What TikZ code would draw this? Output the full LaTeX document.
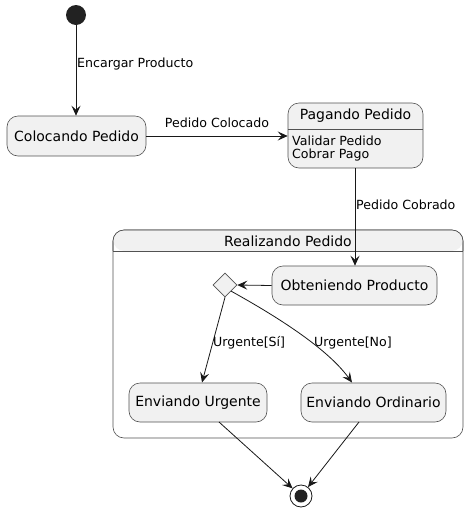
\documentclass[tikz,border=0pt]{standalone}
\usepackage{fontspec}
\setmainfont{DejaVu Sans}
\usetikzlibrary{arrows.meta,shapes.geometric}
\definecolor{stfill}{HTML}{F1F1F1}
\definecolor{stline}{HTML}{181818}
\definecolor{dot}{HTML}{222222}
\begin{document}
\begin{tikzpicture}[x=1pt,y=-1pt,
  state/.style={draw=stline!75,line width=0.6pt,fill=stfill,rounded corners=11pt,inner sep=0pt,font=\fontsize{14}{16}\selectfont},
  edge/.style={draw=stline,line width=0.8pt,-{Stealth[length=10pt,width=9pt,inset=4pt]}},
  lbl/.style={font=\fontsize{12.6}{14}\selectfont,inner sep=0pt},
  body/.style={font=\fontsize{12.6}{14}\selectfont,inner sep=0pt,anchor=west}]
\useasboundingbox (0,0) rectangle (469,512);
% composite state
\node[state,fill=white,minimum width=350pt,minimum height=208pt] (real) at (288,334) {};
\fill[stfill,rounded corners=11pt] (113.3,251) -- (113.3,230.3) -- (462.7,230.3) -- (462.7,251) -- cycle;
\draw[stline!75,line width=0.6pt,rounded corners=11pt] (113,251) -- (113,230) -- (463,230) -- (463,251);
\draw[stline!75,line width=0.6pt] (113,251) -- (463,251);
\node[font=\fontsize{14}{16}\selectfont,inner sep=0pt] (realt) at (288,241) {Realizando Pedido};
% initial
\node[circle,fill=dot,minimum size=20pt,inner sep=0pt] (ini) at (76,15) {};
\node[state,minimum width=139pt,minimum height=40pt] (col) at (76.5,136) {Colocando Pedido};
\node[state,minimum width=135pt,minimum height=65pt] (pag) at (355.5,135.5) {};
\draw[stline!75,line width=0.6pt] (288,129) -- (423,129);
\node[font=\fontsize{14}{16}\selectfont,inner sep=0pt] (pagt) at (355.5,116) {Pagando Pedido};
\node[body] (b1) at (292,141) {Validar Pedido};
\node[body] (b2) at (292,155) {Cobrar Pago};
\node[state,minimum width=165pt,minimum height=39pt] (obt) at (354.5,285.5) {Obteniendo Producto};
\node[diamond,draw=stline!75,line width=0.6pt,fill=stfill,minimum width=24pt,minimum height=24pt,inner sep=0pt] (dia) at (225,285) {};
\node[state,minimum width=138pt,minimum height=39pt] (urg) at (198,402.5) {Enviando Urgente};
\node[state,minimum width=145pt,minimum height=39pt] (ord) at (373.5,402.5) {Enviando Ordinario};
\node[circle,draw=stline,line width=0.8pt,fill=white,minimum size=22pt,inner sep=0pt] (fin) at (301,496) {};
\node[circle,fill=dot,minimum size=13pt,inner sep=0pt] (finin) at (301,496) {};
% edges
\draw[edge] (ini) -- (col.north -| ini);
\node[lbl,anchor=west] (l1) at (77,64) {Encargar Producto};
\draw[edge] (col.east) -- (pag.west |- col.east);
\node[lbl] (l2) at (217,123) {Pedido Colocado};
\draw[edge] (pag.south -| 355,0) -- (obt.north -| 355,0);
\node[lbl,anchor=west] (l3) at (356,205) {Pedido Cobrado};
\draw[edge] (obt.west) -- (dia.east);
\draw[edge] (dia.south) -- (202,382.5);
\node[lbl,anchor=west] (l4) at (213,343) {Urgente[Sí]};
\draw[edge] (dia.south east) .. controls (265,310) and (325,345) .. (352,382.5);
\node[lbl,anchor=west] (l5) at (314,343) {Urgente[No]};
\draw[edge] (219,422) -- (fin);
\draw[edge] (359,422) -- (fin);
\end{tikzpicture}
\end{document}
